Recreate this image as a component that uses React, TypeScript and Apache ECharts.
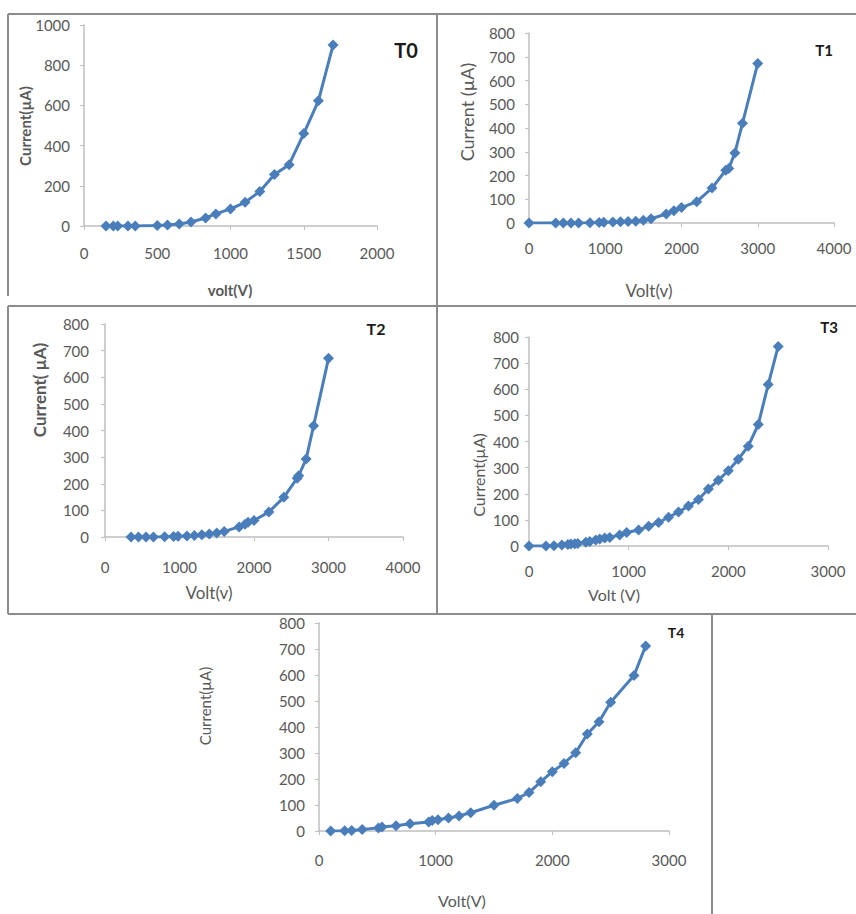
import React, { useEffect, useRef } from "react";
import * as echarts from "echarts";

const t0Volt = [150, 200, 230, 300, 350, 500, 570, 650, 730, 830, 900, 1000, 1100, 1200, 1300, 1400, 1500, 1600, 1700];
const t0Current = [0, 0, 0, 0, 0, 2, 5, 10, 20, 40, 60, 85, 118, 172, 256, 305, 460, 623, 900];

const t1Volt = [0, 350, 450, 550, 650, 800, 920, 980, 1100, 1200, 1300, 1400, 1500, 1600, 1800, 1900, 2000, 2200, 2400, 2580, 2620, 2700, 2800, 3000];
const t1Current = [0, 0, 0, 0, 0, 1, 2, 3, 4, 5, 6, 7, 12, 18, 38, 52, 65, 90, 147, 222, 230, 295, 420, 672];

const t2Volt = [350, 450, 550, 650, 800, 920, 980, 1100, 1200, 1300, 1400, 1500, 1600, 1800, 1880, 1920, 2000, 2200, 2400, 2580, 2600, 2700, 2800, 3000];
const t2Current = [0, 0, 0, 0, 1, 2, 3, 4, 6, 8, 11, 15, 21, 38, 48, 55, 62, 94, 149, 221, 230, 293, 418, 671];

const t3Volt = [0, 170, 250, 330, 390, 420, 460, 490, 570, 610, 670, 710, 760, 810, 910, 980, 1100, 1200, 1300, 1400, 1500, 1600, 1700, 1800, 1900, 2000, 2100, 2200, 2300, 2400, 2500];
const t3Current = [0, 0, 1, 4, 6, 8, 9, 10, 14, 17, 23, 27, 31, 33, 42, 52, 61, 76, 90, 110, 130, 153, 178, 218, 252, 288, 332, 382, 465, 618, 764];

const t4Volt = [100, 220, 280, 370, 510, 540, 660, 780, 940, 970, 1020, 1110, 1200, 1300, 1500, 1700, 1800, 1900, 2000, 2100, 2200, 2300, 2400, 2500, 2700, 2800];
const t4Current = [0, 1, 2, 6, 12, 15, 20, 28, 35, 40, 43, 50, 58, 70, 99, 125, 148, 189, 228, 260, 301, 373, 420, 495, 598, 712];

const panelNames = ["T0", "T1", "T2", "T3", "T4"];
const yTitles = ["Current(µA)", "Current (µA)", "Current( µA)", "Current(µA)", "Current(µA)"];
const xTitles = ["volt(V)", "Volt(v)", "Volt(v)", "Volt (V)", "Volt(V)"];

const FONT = "Lato, 'Open Sans', sans-serif";
const LINE = "#4A7EBB";
const LABEL = "#595959";
const AXIS = "#BFBFBF";
const BORDER = "#8C8C8C";

export default function App() {
  const ref = useRef<HTMLDivElement>(null);

  useEffect(() => {
    if (!ref.current) return;
    const chart = echarts.init(ref.current, undefined, { renderer: "svg" });

    const volts = [t0Volt, t1Volt, t2Volt, t3Volt, t4Volt];
    const currents = [t0Current, t1Current, t2Current, t3Current, t4Current];

    const grids = [
      { left: 84, top: 25, width: 293, height: 201 },
      { left: 529, top: 33, width: 305, height: 190 },
      { left: 105, top: 324, width: 298, height: 213 },
      { left: 529, top: 337, width: 299, height: 209 },
      { left: 319, top: 623, width: 350, height: 208 },
    ];
    const xCfg = [
      { max: 2000, interval: 500, margin: 19 },
      { max: 4000, interval: 1000, margin: 17 },
      { max: 4000, interval: 1000, margin: 22 },
      { max: 3000, interval: 1000, margin: 17 },
      { max: 3000, interval: 1000, margin: 21 },
    ];
    const yCfg = [
      { max: 1000, interval: 200, margin: 14 },
      { max: 800, interval: 100, margin: 14 },
      { max: 800, interval: 100, margin: 16 },
      { max: 800, interval: 100, margin: 10 },
      { max: 800, interval: 100, margin: 14 },
    ];

    const axisCommon = {
      axisLine: { show: true, lineStyle: { color: AXIS, width: 1.5 } },
      axisTick: { show: true, length: 4, lineStyle: { color: AXIS } },
      splitLine: { show: false },
    };
    const fmt = (v: number) => String(v);

    const xAxis = xCfg.map((c, i) => ({
      type: "value",
      gridIndex: i,
      min: 0,
      max: c.max,
      interval: c.interval,
      ...axisCommon,
      axisLabel: { color: LABEL, fontFamily: FONT, fontSize: 15, margin: c.margin, formatter: fmt },
    }));
    const yAxis = yCfg.map((c, i) => ({
      type: "value",
      gridIndex: i,
      min: 0,
      max: c.max,
      interval: c.interval,
      ...axisCommon,
      axisLabel: { color: LABEL, fontFamily: FONT, fontSize: 15, margin: c.margin, formatter: fmt },
    }));

    const series = volts.map((v, i) => ({
      type: "line",
      name: panelNames[i],
      xAxisIndex: i,
      yAxisIndex: i,
      data: v.map((x, j) => [x, currents[i][j]]),
      symbol: "diamond",
      symbolSize: 11,
      lineStyle: { color: LINE, width: 3 },
      itemStyle: { color: LINE },
    }));

    const yTitlePos = [
      { x: 25, y: 126, size: 15, bold: true },
      { x: 467, y: 112, size: 18, bold: false },
      { x: 39, y: 390, size: 17, bold: true },
      { x: 478, y: 475, size: 16, bold: false },
      { x: 205, y: 706, size: 15, bold: false },
    ];
    const xTitlePos = [
      { x: 230, y: 290, size: 15, bold: true },
      { x: 649, y: 290, size: 17, bold: false },
      { x: 209, y: 592, size: 17, bold: false },
      { x: 614, y: 594, size: 16, bold: false },
      { x: 462, y: 900, size: 16, bold: false },
    ];
    const panelPos = [
      { x: 406, y: 50, size: 20 },
      { x: 824, y: 50, size: 15 },
      { x: 376, y: 328, size: 16 },
      { x: 829, y: 327, size: 15 },
      { x: 676, y: 632, size: 14 },
    ];

    const hLine = (x1: number, x2: number, y: number) => ({
      type: "line",
      shape: { x1, y1: y, x2, y2: y },
      style: { stroke: BORDER, lineWidth: 2 },
    });
    const vLine = (x: number, y1: number, y2: number) => ({
      type: "line",
      shape: { x1: x, y1, x2: x, y2 },
      style: { stroke: BORDER, lineWidth: 2 },
    });

    const graphic: any[] = [
      hLine(8, 856, 14),
      vLine(8, 14, 296),
      vLine(437, 14, 614),
      hLine(8, 856, 306),
      vLine(8, 306, 614),
      hLine(8, 856, 614),
      vLine(712, 614, 914),
    ];
    yTitlePos.forEach((p, i) => {
      graphic.push({
        type: "text",
        x: p.x,
        y: p.y,
        rotation: Math.PI / 2,
        style: {
          text: yTitles[i],
          fill: LABEL,
          font: `${p.bold ? "bold " : ""}${p.size}px ${FONT}`,
          align: "center",
          verticalAlign: "middle",
        },
      });
    });
    xTitlePos.forEach((p, i) => {
      graphic.push({
        type: "text",
        x: p.x,
        y: p.y,
        style: {
          text: xTitles[i],
          fill: LABEL,
          font: `${p.bold ? "bold " : ""}${p.size}px ${FONT}`,
          align: "center",
          verticalAlign: "middle",
        },
      });
    });
    panelPos.forEach((p, i) => {
      graphic.push({
        type: "text",
        x: p.x,
        y: p.y,
        style: {
          text: panelNames[i],
          fill: "#1a1a1a",
          font: `bold ${p.size}px ${FONT}`,
          align: "center",
          verticalAlign: "middle",
        },
      });
    });

    chart.setOption({
      animation: false,
      backgroundColor: "#ffffff",
      grid: grids.map((g) => ({ ...g, containLabel: false })),
      xAxis,
      yAxis,
      series,
      graphic,
    });

    return () => chart.dispose();
  }, []);

  return (
    <div
      ref={ref}
      style={{ position: "absolute", left: 0, top: 0, width: 856, height: 914 }}
    />
  );
}
